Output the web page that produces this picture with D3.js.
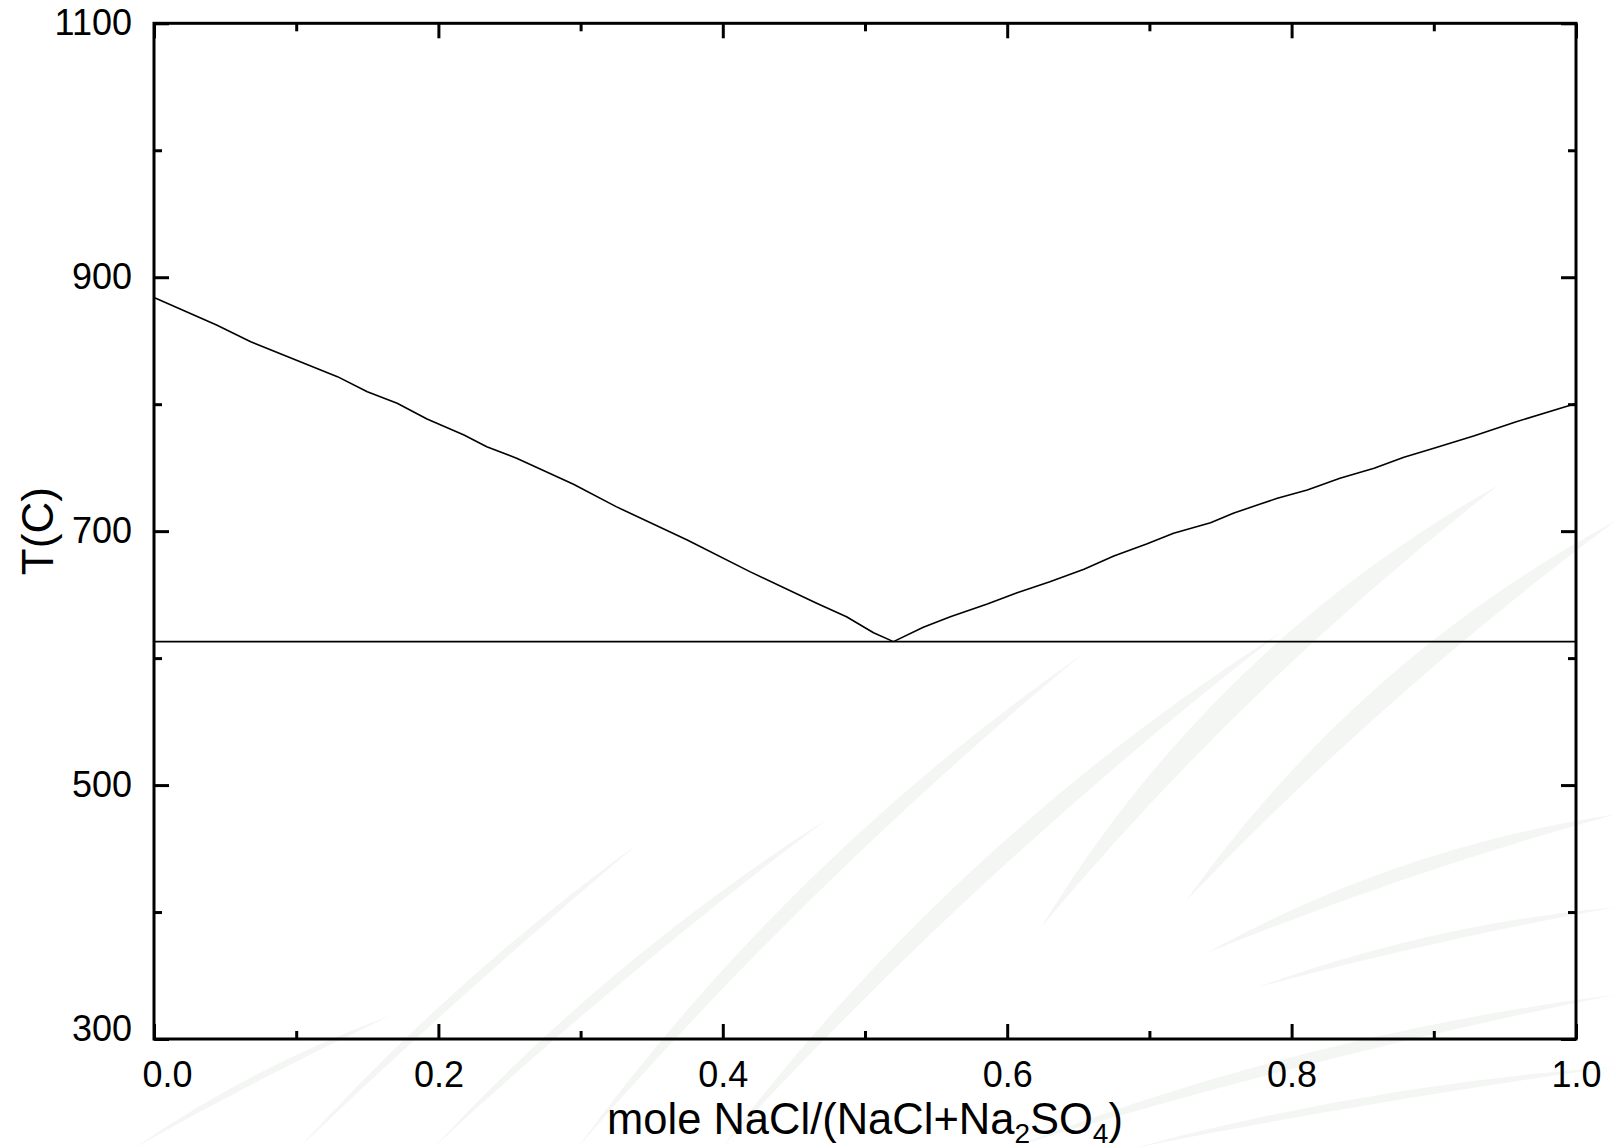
<!DOCTYPE html>
<html><head><meta charset="utf-8">
<script src="https://cdn.jsdelivr.net/npm/d3@7"></script>
<style>
body{margin:0;background:#fff}
svg{display:block}
text{font-family:"Liberation Sans",Arial,Helvetica,sans-serif;fill:#000}
</style>
</head><body>
<svg id="chart" width="1616" height="1148"></svg>
<script>
// ---- data ----
const liquidusLeftX = [0.000,0.044,0.068,0.129,0.150,0.171,0.192,0.218,0.234,0.255,0.295,0.325,0.375,0.419,0.466,0.487,0.506,0.520];
const liquidusLeftT = [884,862.4,849.2,821.7,809.8,800.7,788.3,775.7,766.5,757.4,737.0,719.3,693.0,668.1,643.2,632.6,620.0,613];
const liquidusRightX = [0.520,0.541,0.560,0.586,0.607,0.630,0.654,0.675,0.698,0.717,0.743,0.759,0.778,0.790,0.811,0.834,0.858,0.879,0.900,0.928,0.958,1.000];
const liquidusRightT = [613,624.3,632.6,642.6,651.5,660.2,670.0,680.4,689.9,698.3,706.7,714.1,721.4,725.9,732.4,741.6,749.5,758.2,765.3,775.0,786.2,800.5];
const eutecticX = [0.0, 1.0];
const eutecticT = [613, 613];
const xTicks = [0.0,0.2,0.4,0.6,0.8,1.0];
const xTickLabels = ["0.0","0.2","0.4","0.6","0.8","1.0"];
const xMinorTicks = [0.1,0.3,0.5,0.7,0.9];
const yTicks = [300,500,700,900,1100];
const yTickLabels = ["300","500","700","900","1100"];
const yMinorTicks = [400,600,800,1000];
const xDomain = [0,1];
const yDomain = [300,1100];

// ---- layout ----
const W = 1616, H = 1148;
const m = {left:154, right:W-1576, top:23.3, bottom:H-1039};
const svg = d3.select("#chart");
const x = d3.scaleLinear().domain(xDomain).range([m.left, W-m.right]);
const y = d3.scaleLinear().domain(yDomain).range([H-m.bottom, m.top]);

// ---- faint background watermark (decoration only) ----
const k = W/1568;
const blades = [
  [290,1114,620,818,8,10],[420,1114,805,793,14,12],[560,1114,1050,635,30,18],
  [700,1114,1245,612,34,22],[1010,900,1455,470,36,30],[1150,875,1568,505,26,26],
  [1170,925,1568,790,14,16],[1220,958,1568,880,8,10],[980,1114,1568,965,16,14],
  [1100,1114,1568,1035,8,10],[130,1114,380,985,6,8]
];
const wm = svg.append("g").attr("fill","#f4f6f4");
blades.forEach(([x0,y0,x1,y1,b,w])=>{
  x0*=k;y0*=k;x1*=k;y1*=k;b*=k;w*=k;
  const dx=x1-x0, dy=y1-y0, L=Math.hypot(dx,dy), nx=dy/L, ny=-dx/L;
  const mx=(x0+x1)/2+nx*b, my=(y0+y1)/2+ny*b;
  const p=d3.path();
  p.moveTo(x0,y0);
  p.quadraticCurveTo(mx+nx*w*1.5,my+ny*w*1.5,x1,y1);
  p.quadraticCurveTo(mx-nx*w*0.1,my-ny*w*0.1,x0,y0);
  p.closePath();
  wm.append("path").attr("d",p.toString());
});

const MAJ = 15, MIN = 8, AXW = 3;

function styleAxis(g){
  g.select(".domain").remove();
  g.selectAll(".tick line").attr("stroke","#000").attr("stroke-width",AXW);
  g.selectAll(".tick text").attr("font-size",36).attr("fill","#000")
    .attr("font-family",'"Liberation Sans",Arial,Helvetica,sans-serif');
}

// bottom major with labels
const gb = svg.append("g").attr("transform",`translate(0,${H-m.bottom})`)
  .call(d3.axisBottom(x).tickValues(xTicks).tickFormat((d,i)=>xTickLabels[i]).tickSize(-MAJ).tickSizeOuter(0).tickPadding(22));
styleAxis(gb);
gb.selectAll(".tick text").filter((d,i)=>i===0).attr("dx",13);
svg.append("g").attr("transform",`translate(0,${H-m.bottom})`)
  .call(d3.axisBottom(x).tickValues(xMinorTicks).tickFormat("").tickSize(-MIN).tickSizeOuter(0)).call(styleAxis);
// top
svg.append("g").attr("transform",`translate(0,${m.top})`)
  .call(d3.axisTop(x).tickValues(xTicks).tickFormat("").tickSize(-MAJ).tickSizeOuter(0)).call(styleAxis);
svg.append("g").attr("transform",`translate(0,${m.top})`)
  .call(d3.axisTop(x).tickValues(xMinorTicks).tickFormat("").tickSize(-MIN).tickSizeOuter(0)).call(styleAxis);
// left
const gl = svg.append("g").attr("transform",`translate(${m.left},0)`)
  .call(d3.axisLeft(y).tickValues(yTicks).tickFormat((d,i)=>yTickLabels[i]).tickSize(-MAJ).tickSizeOuter(0).tickPadding(22));
styleAxis(gl);
gl.selectAll(".tick text").filter(d=>d===yDomain[0]).attr("dy","0.05em");
svg.append("g").attr("transform",`translate(${m.left},0)`)
  .call(d3.axisLeft(y).tickValues(yMinorTicks).tickFormat("").tickSize(-MIN).tickSizeOuter(0)).call(styleAxis);
// right
svg.append("g").attr("transform",`translate(${W-m.right},0)`)
  .call(d3.axisRight(y).tickValues(yTicks).tickFormat("").tickSize(-MAJ).tickSizeOuter(0)).call(styleAxis);
svg.append("g").attr("transform",`translate(${W-m.right},0)`)
  .call(d3.axisRight(y).tickValues(yMinorTicks).tickFormat("").tickSize(-MIN).tickSizeOuter(0)).call(styleAxis);

// frame
svg.append("rect").attr("x",x(xDomain[0])).attr("y",y(yDomain[1]))
  .attr("width",x(xDomain[1])-x(xDomain[0])).attr("height",y(yDomain[0])-y(yDomain[1]))
  .attr("fill","none").attr("stroke","#000").attr("stroke-width",AXW);

// lines
const line = d3.line().x(d=>x(d[0])).y(d=>y(d[1]));
const series = [
  d3.zip(liquidusLeftX, liquidusLeftT),
  d3.zip(liquidusRightX, liquidusRightT),
  d3.zip(eutecticX, eutecticT)
];
svg.append("g").selectAll("path").data(series).join("path")
  .attr("d",line).attr("fill","none").attr("stroke","#000").attr("stroke-width",1.6)
  .attr("stroke-linejoin","round");

// axis titles
const xl = svg.append("text").attr("x",(x(0)+x(1))/2).attr("y",1134)
  .attr("text-anchor","middle").attr("font-size",43.5);
xl.append("tspan").text("mole NaCl/(NaCl+Na");
xl.append("tspan").text("2").attr("font-size",28).attr("dy",9);
xl.append("tspan").text("SO").attr("dy",-9);
xl.append("tspan").text("4").attr("font-size",28).attr("dy",9);
xl.append("tspan").text(")").attr("dy",-9);

svg.append("text").attr("transform",`translate(53,${(y(yDomain[0])+y(yDomain[1]))/2}) rotate(-90)`)
  .attr("text-anchor","middle").attr("font-size",44).text("T(C)");
</script>
</body></html>
